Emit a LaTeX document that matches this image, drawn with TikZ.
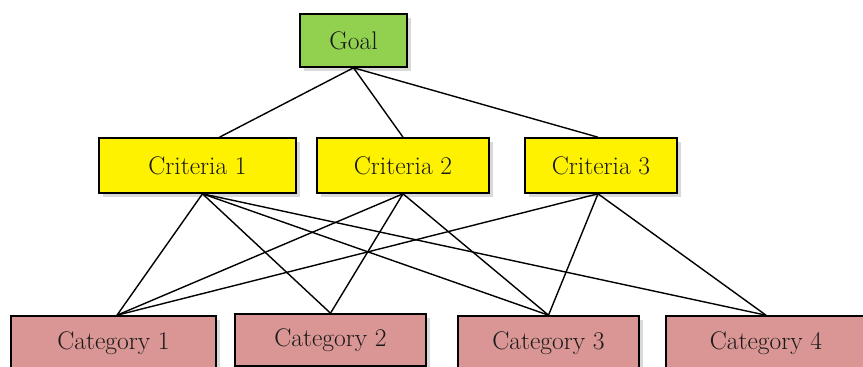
\documentclass[tikz,border=0pt]{standalone}
\usetikzlibrary{shapes,positioning,shadows}
\definecolor{goalgreen}{RGB}{146,208,80}
\definecolor{catpink}{RGB}{217,150,148}
\tikzset{
  basic/.style    = {draw, line width=1.6pt, rectangle, text=black!90,
                     drop shadow={shadow xshift=4pt, shadow yshift=-4pt, opacity=0.3},
                     font=\fontsize{25.5}{30}\selectfont, inner sep=0pt},
  goal/.style     = {basic, fill=goalgreen, minimum width=107pt, minimum height=53pt},
  criteria/.style = {basic, fill=yellow, minimum height=55pt},
  category/.style = {basic, fill=catpink, minimum height=54pt},
  link/.style     = {line width=1.4pt, black}
}

\begin{document}
\begin{tikzpicture}[x=1pt, y=-1pt]

\useasboundingbox (0,0) rectangle (863,367);

\node[goal] at (353.5,40.5) (Goal) {Goal};

\foreach \x/\w [count=\xi] in {197.5/197, 403/172, 601/152}{
    \node[criteria, minimum width=\w pt] at (\x,165.5) (Crit\xi) {Criteria \xi};
    }

\foreach \x/\y/\w/\h [count=\xi] in {113.5/343/205/54, 330.5/340/191/52, 548.5/343/181/54, 766/343/200/54}{
    \node[category, minimum width=\w pt, minimum height=\h pt] at (\x,\y) (Cat\xi) {Category \xi};
    }

% where the lines leave or meet the boxes
\coordinate (Crit1top) at ([xshift=22pt]Crit1.north);
\coordinate (Crit3top) at ([xshift=-3pt]Crit3.north);
\coordinate (Crit1bot) at ([xshift=5pt]Crit1.south);
\coordinate (Crit2bot) at (Crit2.south);
\coordinate (Crit3bot) at ([xshift=-3pt]Crit3.south);
\coordinate (Cat1top) at ([xshift=3.5pt]Cat1.north);
\coordinate (Cat2top) at (Cat2.north);
\coordinate (Cat3top) at (Cat3.north);
\coordinate (Cat4top) at (Cat4.north);

\foreach \c in {Crit1top, Crit2.north, Crit3top}{
    \draw[link] (Goal.south) -- (\c);
    }

\foreach \c/\k in {1/1, 1/2, 1/3, 1/4, 2/1, 2/2, 2/3, 3/1, 3/3, 3/4}{
    \draw[link] (Crit\c bot) -- (Cat\k top);
    }

\end{tikzpicture}
\end{document}
